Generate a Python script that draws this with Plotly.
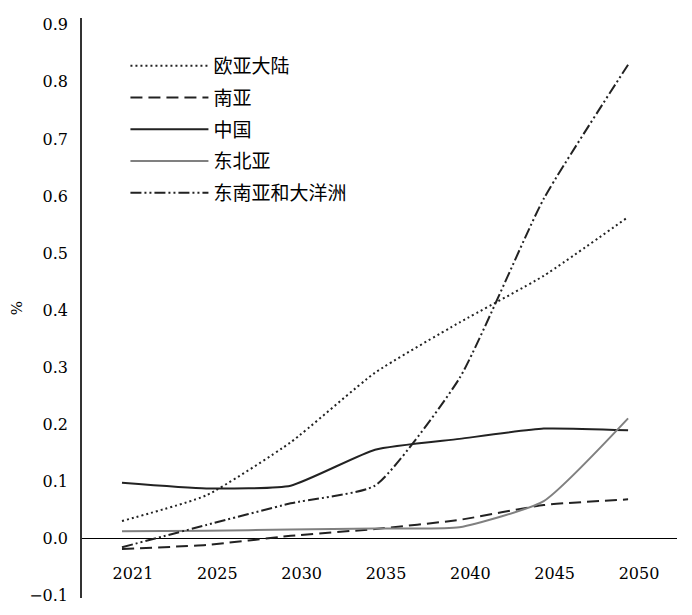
import plotly.graph_objects as go

years = ["2021", "2025", "2030", "2035", "2040", "2045", "2050"]

eurasia = [0.030, 0.075, 0.168, 0.290, 0.378, 0.460, 0.563]
south_asia = [-0.019, -0.012, 0.004, 0.016, 0.032, 0.058, 0.068]
china = [0.097, 0.087, 0.092, 0.155, 0.174, 0.192, 0.189]
ne_asia = [0.012, 0.013, 0.015, 0.017, 0.019, 0.065, 0.210]
se_asia = [-0.016, 0.023, 0.061, 0.092, 0.280, 0.595, 0.830]

names = ["欧亚大陆", "南亚", "中国", "东北亚", "东南亚和大洋洲"]
series = [eurasia, south_asia, china, ne_asia, se_asia]
colors = ["#222222", "#222222", "#222222", "#808080", "#222222"]
dashes = ["2px,3px", "12px,6px", "solid", "solid", "11px,3px,2px,3px,2px,3px"]
widths = [2, 2, 2, 2, 2]

xi = list(range(len(years)))

SERIF = "DejaVu Serif"
CJK = "Noto Sans CJK SC"

fig = go.Figure()
for i, (nm, ys) in enumerate(zip(names, series)):
    fig.add_trace(go.Scatter(
        x=xi, y=ys, name=nm, mode="lines", legendgroup=nm,
        line=dict(color=colors[i], dash=dashes[i], width=widths[i],
                  shape="spline", smoothing=0.5),
    ))

# page body has an 8px margin, so the figure is drawn 8px in from the top-left
fig.update_layout(
    width=684, height=607,
    margin=dict(l=74, r=15, t=10, b=17, autoexpand=False),
    plot_bgcolor="white", paper_bgcolor="white",
    font=dict(family=SERIF, size=16, color="black"),
    showlegend=True,
    legend=dict(x=0.073, y=0.95, xanchor="left", yanchor="top",
                bgcolor="rgba(0,0,0,0)", itemwidth=78, tracegroupgap=4,
                font=dict(size=19, family=CJK)),
    xaxis=dict(range=[-0.474, 6.58], tickvals=[i + 0.13 for i in xi],
               ticktext=years, showgrid=False, zeroline=False, automargin=False,
               showline=False, ticks="", anchor="free", position=0.062,
               tickfont=dict(family=SERIF, size=16)),
    yaxis=dict(range=[-0.105, 0.912], tickvals=[-0.1, 0, 0.1, 0.2, 0.3, 0.4, 0.5, 0.6, 0.7, 0.8, 0.9],
               tickformat=".1f", showgrid=False, zeroline=True, zerolinecolor="black",
               zerolinewidth=1.2, showline=True, linecolor="#333333", linewidth=1.5,
               ticks="", ticklabelstandoff=9, automargin=False,
               tickfont=dict(family=SERIF, size=16),
               title=dict(text="%", standoff=18, font=dict(size=15, family=SERIF))),
)

fig.write_html("out.html")
